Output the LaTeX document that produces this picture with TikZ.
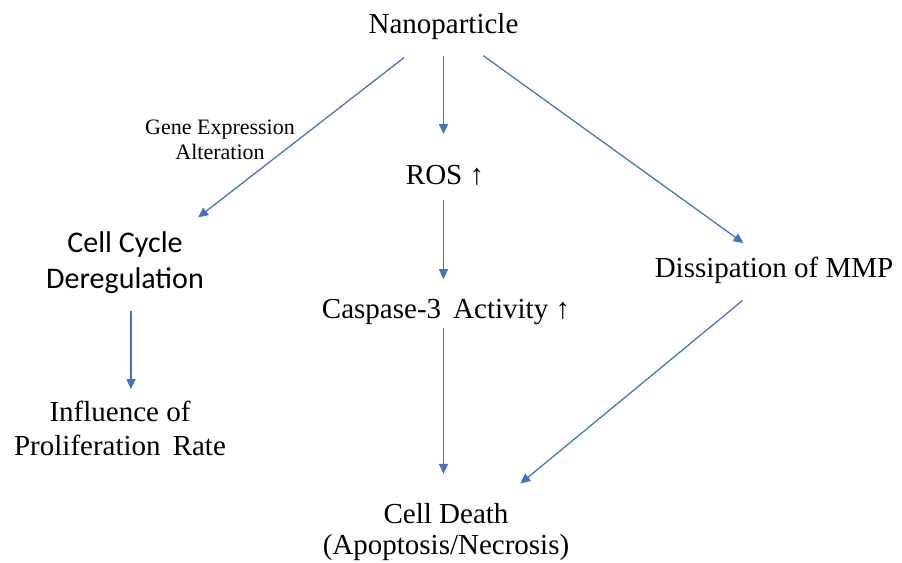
\documentclass[tikz,border=0pt]{standalone}
\usepackage{fontspec}
\setmainfont{Liberation Serif}
\newfontfamily\calibrifont{Carlito}
\usetikzlibrary{arrows.meta}
\definecolor{arrowblue}{RGB}{68,114,196}
\tikzset{every picture/.style={line width=0.75pt}}
\tikzset{
  lbl/.style={inner sep=0.75pt, align=center, font=\fontsize{21.75}{25.5}\selectfont},
  sidelbl/.style={inner sep=0.75pt, align=center, font=\fontsize{16.5}{19}\selectfont},
  sanslbl/.style={inner sep=0.75pt, align=center, font=\calibrifont\fontsize{22.5}{27}\selectfont},
  flow/.style={draw=arrowblue, line width=0.95pt, -{Triangle[length=7.5pt,width=6.8pt]}}
}

\begin{document}
\begin{tikzpicture}[x=0.75pt,y=0.75pt,yscale=-1,xscale=1]
\useasboundingbox (0,0) rectangle (902,563);

% Text Node
\node[lbl] (nano) at (443.5,27) {Nanoparticle};
% Text Node
\node[sidelbl] (gene) at (220,140) {Gene Expression\\Alteration};
% Text Node
\node[lbl] (ros) at (445,175) {ROS ↑};
% Text Node
\node[lbl] (casp) at (446,312) {Caspase-3\, Activity ↑};
% Text Node
\node[sanslbl] (cycle) at (125,263) {Cell Cycle\\Deregulation};
% Text Node
\node[lbl] (infl) at (120,428) {Influence of\\Proliferation\, Rate};
% Text Node
\node[lbl] (diss) at (774,270) {Dissipation of MMP};
% Text Node
\node[lbl, font=\fontsize{21.75}{23.25}\selectfont] (death) at (446,532) {Cell Death\\(Apoptosis/Necrosis)};

%Straight Lines
\draw[flow, shorten <=19.5pt, shorten >=16pt] (nano) -- (cycle.30);
\draw[flow, shorten <=10.5pt, shorten >=22pt] (nano.south) -- (nano.south |- ros.north);
\draw[flow, shorten <=18pt, shorten >=15.5pt] (nano) -- (diss.133);
\draw[flow, shorten <=10pt, shorten >=14pt] (ros.south -| nano.south) -- (nano.south |- casp.north);
\draw[flow, shorten <=1.5pt, shorten >=21pt] (casp.south -| nano.south) -- (nano.south |- death.north);
\draw[flow, shorten <=18.5pt, shorten >=21.5pt] (diss.230) -- (death.30);
\draw[flow, shorten <=12pt, shorten >=7.5pt] ([xshift=4.5pt]cycle.south) -- ([xshift=4.5pt]cycle.south |- infl.north);

\end{tikzpicture}
\end{document}
